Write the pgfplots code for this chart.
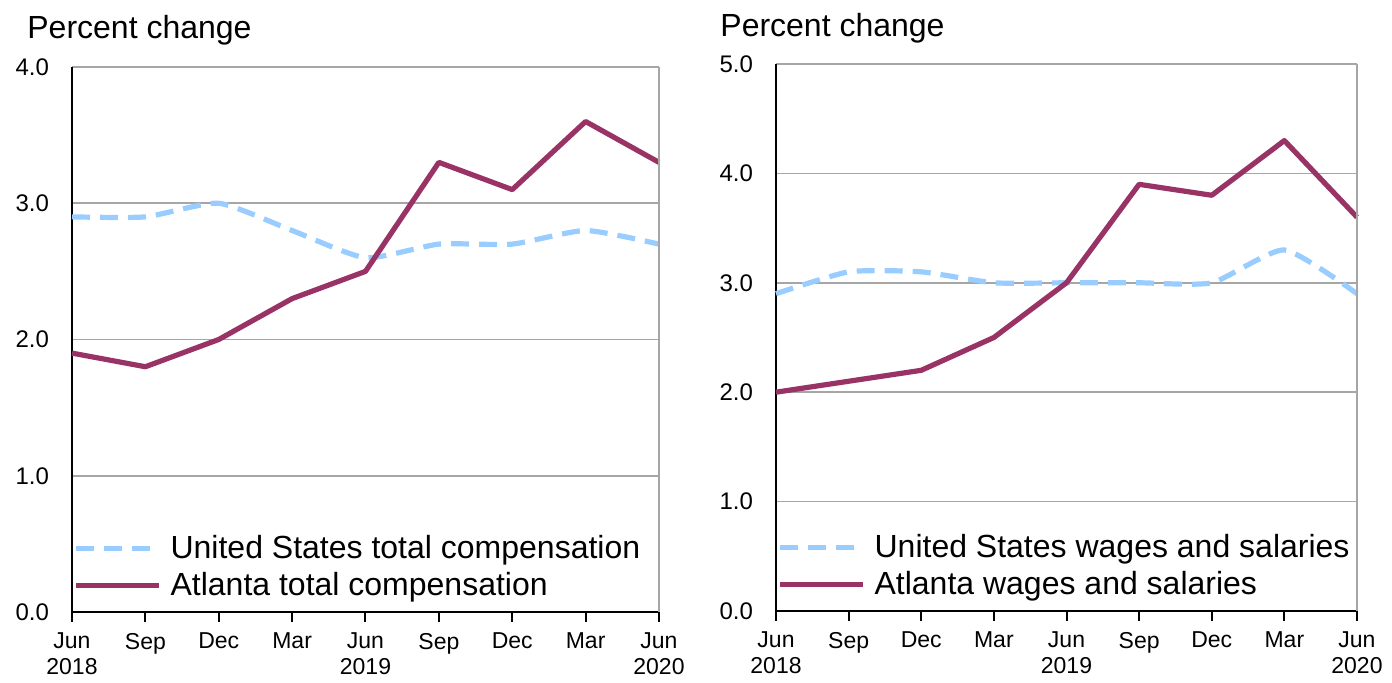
\documentclass[border=0pt]{standalone}
\usepackage{fontspec}
\setmainfont{Liberation Sans}
\usepackage{pgfplots}
\pgfplotsset{compat=1.18}
\definecolor{atl}{HTML}{993366}
\definecolor{usb}{HTML}{99CCFF}
\definecolor{gridc}{HTML}{A6A6A6}
\pgfplotsset{
  mystyle/.style={
    scale only axis,
    anchor=south west,
    xmin=0, xmax=8, ymin=0,
    axis x line*=bottom, axis y line*=left,
    axis line style={black, line width=1pt},
    xtick={0,...,8},
    xticklabels={{Jun\\2018},Sep,Dec,Mar,{Jun\\2019},Sep,Dec,Mar,{Jun\\2020}},
    xticklabel style={align=center, font=\fontsize{11.5}{13}\selectfont, yshift=-2pt},
    x tick style={black, line width=1pt},
    major tick length=5pt,
    tick align=outside,
    ytick style={draw=none},
    yticklabel style={font=\fontsize{12}{13}\selectfont, xshift=-3pt},
    /pgf/number format/.cd, fixed, fixed zerofill, precision=1, assume math mode=true, /pgfplots/.cd,
    ymajorgrids,
    grid style={gridc, line width=0.8pt},
    legend style={draw=none, fill=none, font=\fontsize{16}{19}\selectfont,
      at={(rel axis cs:0,0)}, anchor=south west, xshift=0.5pt, yshift=4.5pt,
      row sep=1.5pt, inner sep=0pt, cells={anchor=west}},
    legend cell align=left,
    legend image code/.code={\draw[#1] (0pt,0pt) -- (41.5pt,0pt); \path (44pt,0pt);},
    clip=false,
  },
  usline/.style={usb, line width=2.6pt, dash pattern=on 9pt off 5pt, smooth, tension=0.35},
  atline/.style={atl, line width=2.6pt, line join=round},
}
\begin{document}
\begin{tikzpicture}
\useasboundingbox (0,0) rectangle (696pt,341.5pt);
\begin{axis}[mystyle, at={(36pt,35.5pt)}, width=293.5pt, height=272.5pt,
  ymax=4, ytick={0,1,2,3,4}]
\addplot[usline] coordinates {(0,2.9) (1,2.9) (2,3.0) (3,2.8) (4,2.6) (5,2.7) (6,2.7) (7,2.8) (8,2.7)};
\addlegendentry{United States total compensation}
\addplot[atline] coordinates {(0,1.9) (1,1.8) (2,2.0) (3,2.3) (4,2.5) (5,3.3) (6,3.1) (7,3.6) (8,3.3)};
\addlegendentry{Atlanta total compensation}
\draw[gridc, line width=0.8pt] (rel axis cs:1,0) -- (rel axis cs:1,1);
\end{axis}
\node[anchor=base west, font=\fontsize{16}{19}\selectfont, inner sep=0pt] at (13.5pt,322pt) {Percent change};
\begin{axis}[mystyle, at={(388pt,36pt)}, width=290.5pt, height=273.5pt,
  ymax=5, ytick={0,1,2,3,4,5}]
\addplot[usline] coordinates {(0,2.9) (1,3.1) (2,3.1) (3,3.0) (4,3.0) (5,3.0) (6,3.0) (7,3.3) (8,2.9)};
\addlegendentry{United States wages and salaries}
\addplot[atline] coordinates {(0,2.0) (1,2.1) (2,2.2) (3,2.5) (4,3.0) (5,3.9) (6,3.8) (7,4.3) (8,3.6)};
\addlegendentry{Atlanta wages and salaries}
\draw[gridc, line width=0.8pt] (rel axis cs:1,0) -- (rel axis cs:1,1);
\end{axis}
\node[anchor=base west, font=\fontsize{16}{19}\selectfont, inner sep=0pt] at (360pt,323pt) {Percent change};
\end{tikzpicture}
\end{document}
